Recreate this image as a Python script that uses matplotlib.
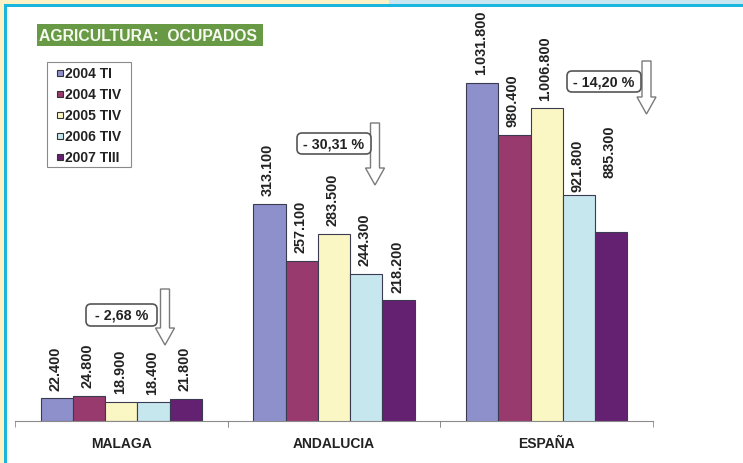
import numpy as np
import matplotlib.pyplot as plt
from matplotlib.patches import Rectangle, FancyBboxPatch, FancyArrow

plt.rcParams['font.family'] = ['Liberation Sans', 'DejaVu Sans']

regions = ['MALAGA', 'ANDALUCIA', 'ESPAÑA']
periods = ['2004 TI', '2004 TIV', '2005 TIV', '2006 TIV', '2007 TIII']
malaga = [22400, 24800, 18900, 18400, 21800]
andalucia = [313100, 257100, 283500, 244300, 218200]
espana = [1031800, 980400, 1006800, 921800, 885300]
changes = ['- 2,68 %', '- 30,31 %', '- 14,20 %']

# the original sheet cuts each group's scale at a different floor
floors = [0, 100000, 700000]

COLORS = ['#8e90cc', '#983a6e', '#fbf7c4', '#c7e7ef', '#652171']
EDGE = '#3a3a50'
GREEN = '#689a45'
CYAN = '#1bb6de'

W, H = 743, 464
fig = plt.figure(figsize=(W / 100, H / 100), dpi=100)
fig.patch.set_facecolor('white')

left, right, base, top = 15, 653, 422, 10
gw = (right - left) / 3
span = (base - top) / 1.02 * 1000
bw = 0.152

# label gap above bar in px, a couple of labels were moved by hand
gaps = {(2, 3): 4, (2, 4): 55}

for g, vals in enumerate([malaga, andalucia, espana]):
    ax = fig.add_axes([(left + g * gw) / W, (H - base) / H, gw / W, (base - top) / H])
    ax.patch.set_alpha(0)
    ax.set_xlim(0, 1)
    ax.set_ylim(floors[g], floors[g] + span)
    xs = 0.5 + (np.arange(len(vals)) - 2) * bw
    ax.bar(xs, vals, width=bw, color=COLORS, edgecolor=EDGE, linewidth=0.8)
    for i, v in enumerate(vals):
        txt = '{:,}'.format(v).replace(',', '.')
        gap = gaps.get((g, i), 8.5) * 0.72
        ax.annotate(txt, xy=(xs[i], v), xytext=(-1, gap), textcoords='offset points',
                    rotation=90, ha='center', va='bottom', fontsize=10.4,
                    fontweight='bold', color='#222222')
    for s in ['top', 'left', 'right']:
        ax.spines[s].set_visible(False)
    ax.spines['bottom'].set_color('#8a8a8a')
    ax.set_yticks([])
    ax.set_xticks([0.5])
    ax.set_xticklabels([regions[g]], fontsize=10, fontweight='bold', color='#222222')
    ax.tick_params(axis='x', which='major', length=0, pad=11)
    ax.set_xticks([0, 1], minor=True)
    ax.tick_params(axis='x', which='minor', length=4, color='#8a8a8a')

# overlay in pixel units for the frame, title, legend and callouts
ov = fig.add_axes([0, 0, 1, 1], zorder=10)
ov.set_xlim(0, W)
ov.set_ylim(H, 0)
ov.axis('off')
ov.patch.set_alpha(0)

ov.add_patch(Rectangle((0, 0), 389, 5, facecolor='#fdf1c6', edgecolor='none'))
ov.add_patch(Rectangle((389, 0), W - 389, 5, facecolor='#c9e7f2', edgecolor='none'))
ov.add_patch(Rectangle((0, 0), 4, H, facecolor='#fdf1c6', edgecolor='none'))
ov.add_patch(Rectangle((4, 5), W - 4, 2.5, facecolor=CYAN, edgecolor='none'))
ov.add_patch(Rectangle((4, 5), 3, H - 5, facecolor=CYAN, edgecolor='none'))

ov.add_patch(Rectangle((36.5, 25), 226.5, 22, facecolor=GREEN, edgecolor='none'))
ov.text(39, 36.5, 'AGRICULTURA:  OCUPADOS', color='#f6f9f0', fontsize=11.3,
        fontweight='bold', ha='left', va='center')

# legend box
ov.add_patch(Rectangle((47, 63), 84, 105, facecolor='white', edgecolor='#8a8a8a', linewidth=0.8))
for i, (lab, c) in enumerate(zip(periods, COLORS)):
    cy = 74 + 21 * i
    ov.add_patch(Rectangle((56.5, cy - 3), 6, 6, facecolor=c, edgecolor='#333333', linewidth=0.8))
    ov.text(65, cy, lab, fontsize=10, fontweight='bold', color='#222222',
            ha='left', va='center')

arrows = [(165, 290, 346), (375, 124, 186), (646.5, 62, 115)]
boxes = [(86, 305, 71, 22), (297, 134, 74, 21), (567, 72, 74, 21)]
for (ax_x, y0, y1), (bx, by, bwid, bh), label in zip(arrows, boxes, changes):
    ov.add_patch(FancyArrow(ax_x, y0, 0, y1 - y0, width=9, head_width=19, head_length=17,
                            length_includes_head=True, facecolor='white',
                            edgecolor='#7a7a7a', linewidth=1.0, zorder=2))
    ov.add_patch(FancyBboxPatch((bx, by), bwid, bh, boxstyle='round,pad=0,rounding_size=5',
                                facecolor='white', edgecolor='#555555', linewidth=1.2, zorder=3))
    ov.text(bx + bwid / 2, by + bh / 2, label, fontsize=10.3, fontweight='bold',
            color='#222222', ha='center', va='center', zorder=4)

fig.savefig('out.png', dpi=100)
